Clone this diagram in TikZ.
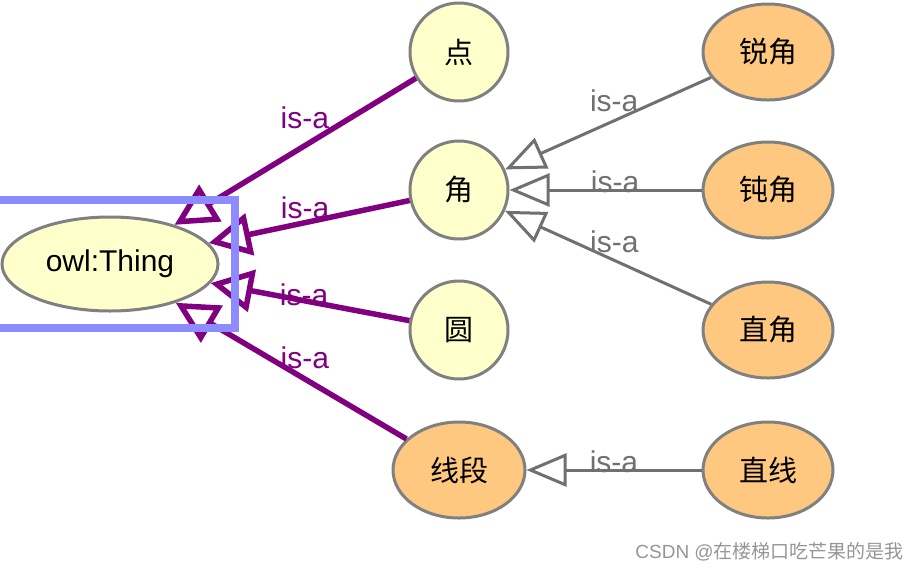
\documentclass[tikz,border=0pt]{standalone}
\usepackage{fontspec}
\setmainfont{Liberation Sans}
\newfontfamily\cjk{Noto Sans CJK SC}
\usetikzlibrary{arrows.meta,shapes.geometric}
\definecolor{lightyel}{RGB}{255,255,204}
\definecolor{lightorange}{RGB}{255,200,128}
\definecolor{bordergray}{RGB}{128,128,128}
\definecolor{isapurple}{RGB}{128,0,128}
\definecolor{edgegray}{RGB}{112,112,112}
\definecolor{selblue}{RGB}{140,140,255}
\definecolor{markgray}{RGB}{150,150,150}
\tikzset{
  yelcircle/.style={circle, draw=bordergray, line width=3pt, fill=lightyel, minimum size=98pt, inner sep=0pt, font=\cjk\fontsize{29}{29}\selectfont},
  orangeell/.style={ellipse, draw=bordergray, line width=3pt, fill=lightorange, minimum width=130pt, minimum height=96pt, inner sep=0pt, font=\cjk\fontsize{29}{29}\selectfont},
  thingell/.style={ellipse, draw=bordergray, line width=3pt, fill=lightyel, minimum width=216pt, minimum height=94pt, inner sep=0pt, font=\fontsize{30}{30}\selectfont},
  topedge/.style={draw=isapurple, line width=5.5pt, -{Triangle[open, length=42pt 0, width=42pt 0]}},
  subedge/.style={draw=edgegray, line width=3pt, -{Triangle[open, length=40pt 0, width=33pt 0]}},
  toplbl/.style={text=isapurple, inner sep=0pt, font=\fontsize{30}{30}\selectfont},
  sublbl/.style={text=edgegray, inner sep=0pt, font=\fontsize{30}{30}\selectfont},
  selbox/.style={draw=selblue, line width=8pt},
  watermark/.style={text=markgray, inner sep=0pt, font=\fontsize{19}{19}\selectfont}
}
\begin{document}
\begin{tikzpicture}[x=1pt,y=1pt]
\useasboundingbox (0,-574) rectangle (920,0);
\clip (0,-574) rectangle (920,0);
\fill[white] (0,-574) rectangle (920,0);

% nodes
\node[thingell] (thing) at (110,-264) {owl:Thing};
\node[yelcircle] (dian) at (459,-52) {点};
\node[yelcircle] (jiao) at (459,-190) {角};
\node[yelcircle] (yuan) at (459,-330) {圆};
\node[orangeell, minimum width=132pt] (xianduan) at (459,-470) {线段};
\node[orangeell] (ruijiao) at (768,-52) {锐角};
\node[orangeell] (dunjiao) at (768,-190) {钝角};
\node[orangeell] (zhijiao) at (768,-330) {直角};
\node[orangeell] (zhixian) at (768,-470) {直线};

% purple is-a edges to owl:Thing
\draw[topedge] (dian) -- node[toplbl, pos=0.46, yshift=28pt] {is-a} (thing);
\draw[topedge] (jiao) -- node[toplbl, pos=0.52, yshift=15pt] {is-a} (thing);
\draw[topedge] (yuan) -- node[toplbl, pos=0.53, yshift=6pt] {is-a} (thing);
\draw[topedge] (xianduan) -- node[toplbl, pos=0.44, yshift=21pt] {is-a} (thing);

% gray is-a edges
\draw[subedge] (ruijiao) -- node[sublbl, pos=0.47, yshift=20pt] {is-a} (jiao);
\draw[subedge] (dunjiao) -- node[sublbl, pos=0.45, yshift=8pt] {is-a} (jiao);
\draw[subedge] (zhijiao) -- node[sublbl, pos=0.47, yshift=19pt] {is-a} (jiao);
\draw[subedge] (zhixian) -- node[sublbl, pos=0.5, yshift=8pt] {is-a} (xianduan);

% selection box
\draw[selbox] (-20,-200) -- (235,-200) -- (235,-328) -- (-20,-328);

% watermark
\node[watermark, anchor=east] (mark) at (904,-552) {CSDN @{\cjk 在楼梯口吃芒果的是我}};
\end{tikzpicture}
\end{document}
